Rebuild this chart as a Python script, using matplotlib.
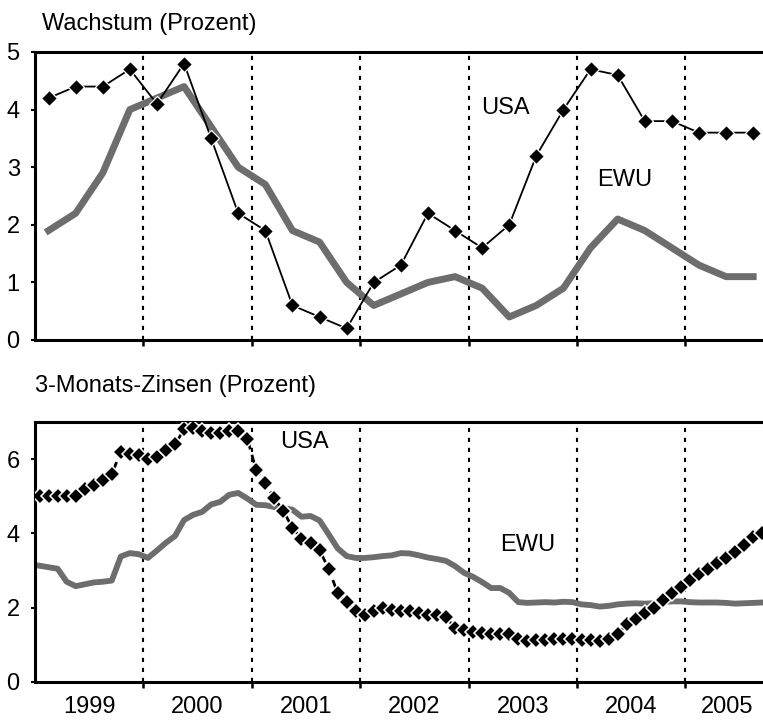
import matplotlib
matplotlib.use("Agg")
import matplotlib.pyplot as plt
import numpy as np

plt.rcParams['font.family'] = ['Liberation Sans', 'DejaVu Sans']

# ---- data ----
years = [1999, 2000, 2001, 2002, 2003, 2004, 2005]
year_labels = ['1999', '2000', '2001', '2002', '2003', '2004', '2005']

# quarterly growth (1999Q1 .. 2005Q3)
usa_growth = [4.2, 4.4, 4.4, 4.7, 4.1, 4.8, 3.5, 2.2, 1.9, 0.6, 0.4, 0.2,
              1.0, 1.3, 2.2, 1.9, 1.6, 2.0, 3.2, 4.0, 4.7, 4.6, 3.8, 3.8,
              3.6, 3.6, 3.6]
ewu_growth = [1.9, 2.2, 2.9, 4.0, 4.2, 4.4, 3.7, 3.0, 2.7, 1.9, 1.7, 1.0,
              0.6, 0.8, 1.0, 1.1, 0.9, 0.4, 0.6, 0.9, 1.6, 2.1, 1.9, 1.6,
              1.3, 1.1, 1.1]

# monthly 3-month rates (1999-01 .. 2005-09)
usa_rate = [5.0, 5.0, 5.0, 5.0, 5.0, 5.2, 5.3, 5.45, 5.6, 6.2, 6.15, 6.1,
            6.0, 6.05, 6.25, 6.4, 6.8, 6.85, 6.75, 6.7, 6.7, 6.75, 6.75, 6.55,
            5.7, 5.35, 4.95, 4.6, 4.15, 3.85, 3.75, 3.55, 3.05, 2.4, 2.15, 1.9,
            1.8, 1.9, 2.0, 1.95, 1.9, 1.9, 1.85, 1.8, 1.8, 1.75, 1.45, 1.4,
            1.35, 1.33, 1.28, 1.3, 1.3, 1.15, 1.1, 1.12, 1.13, 1.15, 1.15, 1.15,
            1.12, 1.12, 1.11, 1.15, 1.3, 1.55, 1.7, 1.85, 2.0, 2.2, 2.4, 2.55,
            2.75, 2.9, 3.05, 3.2, 3.35, 3.5, 3.7, 3.9, 4.0]
ewu_rate = [3.13, 3.09, 3.05, 2.70, 2.58, 2.63, 2.68, 2.70, 2.73, 3.38, 3.47, 3.44,
            3.34, 3.54, 3.75, 3.93, 4.36, 4.50, 4.58, 4.78, 4.85, 5.04, 5.09, 4.94,
            4.77, 4.76, 4.71, 4.68, 4.64, 4.45, 4.47, 4.35, 3.98, 3.60, 3.39, 3.34,
            3.34, 3.36, 3.39, 3.41, 3.47, 3.46, 3.41, 3.35, 3.31, 3.26, 3.12, 2.94,
            2.83, 2.69, 2.53, 2.53, 2.40, 2.15, 2.13, 2.14, 2.15, 2.14, 2.16, 2.15,
            2.09, 2.07, 2.03, 2.05, 2.09, 2.11, 2.12, 2.11, 2.12, 2.15, 2.17, 2.17,
            2.15, 2.14, 2.14, 2.14, 2.13, 2.11, 2.12, 2.13, 2.14]

title_top = 'Wachstum (Prozent)'
title_bottom = '3-Monats-Zinsen (Prozent)'

# ---- styling ----
GRAY = '#6d6d6d'
FS = 17
XMIN, XMAX = 1999.0, 2005.716

fig = plt.figure(figsize=(7.63, 7.2), dpi=100)
L = 35 / 763
ax1 = fig.add_axes([L, 1 - 340 / 720, 1 - L, (340 - 52) / 720])
ax2 = fig.add_axes([L, 1 - 682 / 720, 1 - L, (682 - 422) / 720])

xq = years[0] + (np.arange(len(usa_growth)) + 0.5) / 4
xm = years[0] + (np.arange(len(usa_rate)) + 0.5) / 12


def style(ax, ymax, yticks):
    ax.set_xlim(XMIN, XMAX)
    ax.set_ylim(0, ymax)
    for s in ['left', 'bottom', 'top']:
        ax.spines[s].set_linewidth(2.2)
    ax.spines['right'].set_visible(False)
    ax.set_yticks(yticks)
    ax.set_yticklabels([str(t) for t in yticks])
    ax.tick_params(axis='y', direction='out', length=3, width=1.5, pad=8,
                   labelsize=FS)
    ax.set_xticks(years[1:])
    ax.set_xticklabels([])
    ax.tick_params(axis='x', which='major', direction='out', length=4, width=1.8)
    for yr in years[1:]:
        ax.axvline(yr, color='black', lw=1.5, linestyle=(0, (2, 2.8)), zorder=1)


style(ax1, 5, [0, 1, 2, 3, 4, 5])
style(ax2, 7, [0, 2, 4, 6])

# top panel
ax1.plot(xq, ewu_growth, color=GRAY, lw=5.0, zorder=2)
ax1.plot(xq, usa_growth, color='black', lw=1.3, marker='D', ms=7.8,
         mfc='black', mec='white', mew=0.9, zorder=3)
ax1.text(2003.12, 4.03, 'USA', fontsize=FS, ha='left', va='center')
ax1.text(2004.19, 2.77, 'EWU', fontsize=FS, ha='left', va='center')

# bottom panel
ax2.plot(xm, ewu_rate, color=GRAY, lw=4.2, zorder=2)
ax2.plot(xm, usa_rate, color='black', lw=2.0, linestyle=(0, (3, 2)), marker='D',
         ms=8.2, mfc='black', mec='white', mew=1.1, zorder=3)
ax2.text(2001.26, 6.46, 'USA', fontsize=FS, ha='left', va='center')
ax2.text(2003.29, 3.69, 'EWU', fontsize=FS, ha='left', va='center')

# year labels centred in each year (last one kept inside the visible range)
label_pos = [min(y + 0.5, XMAX - 0.33) for y in years]
ax2.set_xticks(label_pos, minor=True)
ax2.set_xticklabels(year_labels, minor=True)
ax2.tick_params(axis='x', which='minor', length=0, pad=10, labelsize=FS)

fig.text(42 / 763, 1 - 30 / 720, title_top, fontsize=FS, ha='left', va='baseline')
fig.text(35 / 763, 1 - 392 / 720, title_bottom, fontsize=FS, ha='left', va='baseline')

fig.savefig('out.png', dpi=100)
